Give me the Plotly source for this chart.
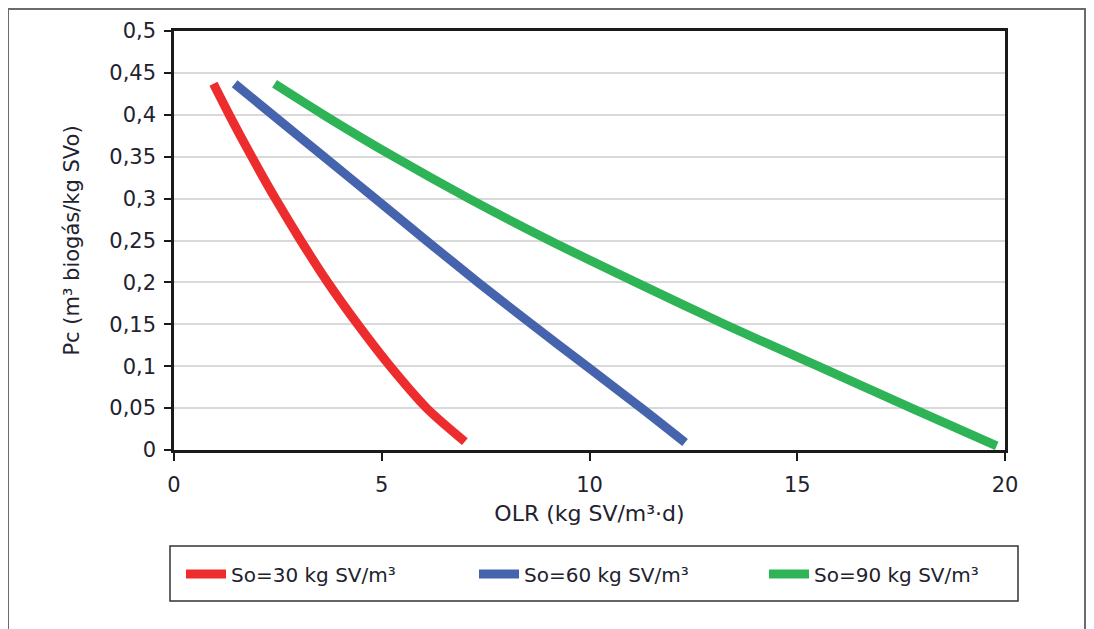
import plotly.graph_objects as go

# Data
red_x = [0.95, 1.33, 1.87, 2.44, 3.05, 3.70, 4.42, 5.20, 6.08, 7.00]
red_y = [0.437, 0.40, 0.35, 0.30, 0.25, 0.20, 0.15, 0.10, 0.05, 0.01]

blue_x = [1.46, 2.37, 3.61, 4.84, 6.07, 7.32, 8.61, 9.93, 11.25, 12.30]
blue_y = [0.437, 0.40, 0.35, 0.30, 0.25, 0.20, 0.15, 0.10, 0.05, 0.009]

green_x = [2.42, 3.60, 5.29, 7.10, 9.04, 11.12, 13.25, 15.50, 17.75, 19.80]
green_y = [0.437, 0.40, 0.35, 0.30, 0.25, 0.20, 0.15, 0.10, 0.05, 0.005]

names = ["So=30 kg SV/m³", "So=60 kg SV/m³", "So=90 kg SV/m³"]
colors = ["#ED2D2D", "#4663AD", "#2EB457"]

x_ticks = [0, 5, 10, 15, 20]
y_ticks = [0, 0.05, 0.1, 0.15, 0.2, 0.25, 0.3, 0.35, 0.4, 0.45, 0.5]

OFF = 8  # default page body margin
W, H = 1094 - OFF, 629 - OFF
L, T = 174 - OFF, 31 - OFF
R = W - (1005 - OFF)
B = H - (450 - OFF)
pw, ph = W - L - R, H - T - B

def px(xp):
    return (xp - OFF - L) / pw

def py(yp):
    return (H - B - (yp - OFF)) / ph

font_family = "DejaVu Sans, Open Sans, sans-serif"
text_color = "#22222e"

fig = go.Figure()
legend_ids = ["legend", "legend2", "legend3"]
for xs, ys, nm, c, lg in zip([red_x, blue_x, green_x], [red_y, blue_y, green_y],
                             names, colors, legend_ids):
    fig.add_trace(go.Scatter(
        x=xs, y=ys, mode="lines", name=nm, legend=lg,
        line=dict(color=c, width=9, shape="spline", smoothing=0.8),
    ))

def leg(xpage):
    return dict(
        x=px(xpage), y=py(574), xanchor="left", yanchor="middle",
        itemwidth=40,
        font=dict(size=20, color=text_color, family=font_family),
        bgcolor="rgba(0,0,0,0)", borderwidth=0,
    )

fig.update_layout(
    width=W, height=H,
    margin=dict(l=L, r=R, t=T, b=B, pad=0),
    paper_bgcolor="white", plot_bgcolor="white",
    separators=",.",
    font=dict(family=font_family, color=text_color, size=21),
    showlegend=True,
    legend=leg(181), legend2=leg(474), legend3=leg(764),
    xaxis=dict(
        range=[0, 20], tickvals=x_ticks, ticks="outside", ticklen=8, tickwidth=2,
        tickcolor="#1a1a1a", showline=True, linecolor="#1a1a1a", linewidth=2.5,
        mirror=True, showgrid=False, zeroline=False,
        tickfont=dict(size=21), ticklabelstandoff=6,
        title=dict(text="OLR (kg SV/m³·d)", font=dict(size=22), standoff=10),
    ),
    yaxis=dict(
        range=[0, 0.5], tickvals=y_ticks, ticks="outside", ticklen=7, tickwidth=2,
        tickcolor="#1a1a1a", showline=True, linecolor="#1a1a1a", linewidth=2.5,
        mirror=True, showgrid=True, gridcolor="#d9d9d9", gridwidth=1.5,
        zeroline=False, tickfont=dict(size=21), ticklabelstandoff=4,
        title=dict(text="Pc (m³ biogás/kg SVo)", font=dict(size=21), standoff=24),
    ),
    shapes=[
        dict(type="rect", xref="paper", yref="paper",
             x0=px(8), x1=px(1085), y0=py(640), y1=py(9),
             line=dict(color="#6b6b6b", width=2), fillcolor="rgba(0,0,0,0)", layer="below"),
        dict(type="rect", xref="paper", yref="paper",
             x0=px(170), x1=px(1018), y0=py(601), y1=py(546),
             line=dict(color="#333333", width=1.5), fillcolor="rgba(0,0,0,0)", layer="below"),
    ],
)

fig.write_html("out.html")
